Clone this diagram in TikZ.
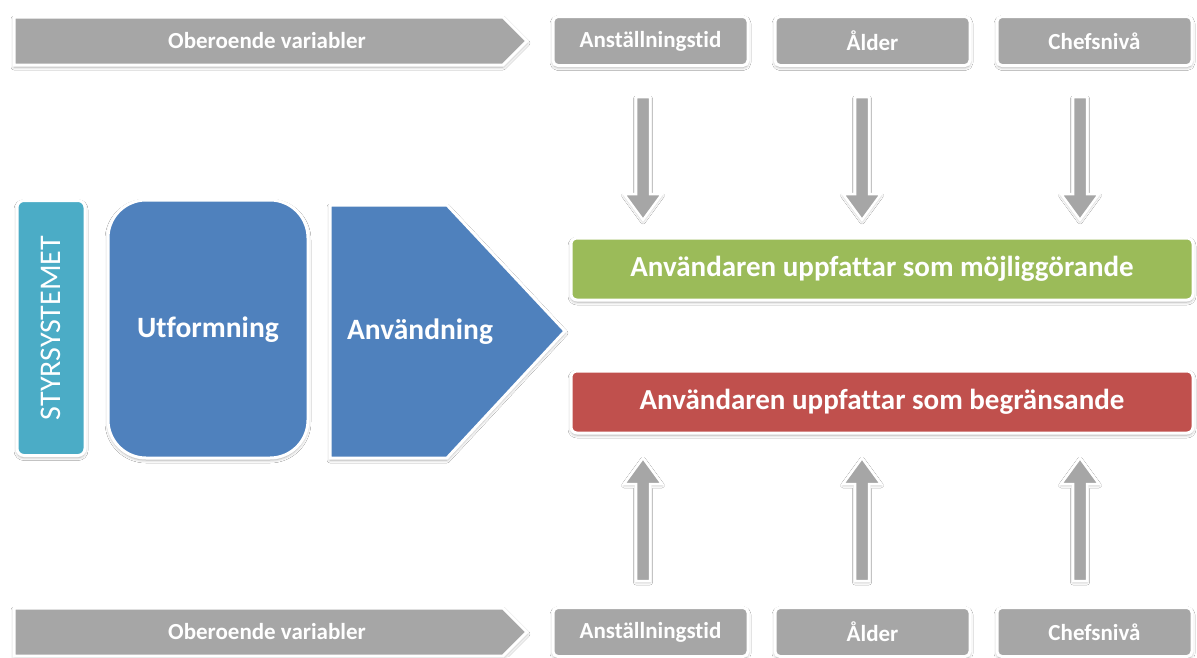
\documentclass[tikz,border=0pt]{standalone}
\usepackage{fontspec}
\setmainfont{Carlito}[Ligatures=NoCommon]
\usetikzlibrary{calc,shadows.blur}
\definecolor{bargray}{HTML}{A6A6A6}
\definecolor{okgreen}{HTML}{9BBB59}
\definecolor{badred}{HTML}{C0504D}
\definecolor{stepblue}{HTML}{4F81BD}
\definecolor{systeal}{HTML}{4BACC6}
\tikzset{
  framed/.style={draw=white, line width=3pt,
    blur shadow={shadow xshift=0pt, shadow yshift=-2pt, shadow blur radius=3pt, shadow opacity=35}},
  bartext/.style={text=white, font=\bfseries\fontsize{23}{26}\selectfont},
  varbox/.style={framed, fill=bargray, rounded corners=5pt, minimum width=195pt, minimum height=49pt,
    text=white, font=\bfseries\fontsize{23}{26}\selectfont},
  outbox/.style={framed, rounded corners=6pt, minimum width=622pt, minimum height=62pt,
    text=white, font=\bfseries\fontsize{29}{32}\selectfont},
  bigtext/.style={text=white, font=\bfseries\fontsize{29.5}{33}\selectfont},
  arrowbody/.style={fill=bargray, draw=white, line width=2.5pt, line join=miter,
    blur shadow={shadow xshift=0pt, shadow yshift=-1.5pt, shadow blur radius=2.5pt, shadow opacity=30}},
  pics/downarrow/.style={code={
    \path[arrowbody] (-7,0) -- (-7,97) -- (-19,97) -- (0,123) -- (19,97) -- (7,97) -- (7,0) -- cycle;}},
  pics/uparrow/.style={code={
    \path[arrowbody] (-7,0) -- (-7,-97) -- (-19,-97) -- (0,-123) -- (19,-97) -- (7,-97) -- (7,0) -- cycle;}}
}
\begin{document}
\begin{tikzpicture}[x=1pt,y=-1pt]
\useasboundingbox[fill=white] (0,0) rectangle (1197,657);

% top row of independent variables
\path[framed, fill=bargray] (14,17) -- (503,17) -- (527,41) -- (503,65) -- (14,65) -- cycle;
\node[bartext] (ovtop) at (267,41) {Oberoende variabler};
\node[varbox] (t1) at (650.5,41) {Anställningstid};
\node[varbox] (t2) at (872.5,41) {Ålder};
\node[varbox] (t3) at (1094.5,41) {Chefsnivå};

% bottom row of independent variables
\path[framed, fill=bargray] (14,608) -- (503,608) -- (527,632) -- (503,656) -- (14,656) -- cycle;
\node[bartext] (ovbot) at (267,632) {Oberoende variabler};
\node[varbox] (b1) at (650.5,632) {Anställningstid};
\node[varbox] (b2) at (872.5,632) {Ålder};
\node[varbox] (b3) at (1094.5,632) {Chefsnivå};

% control system chain
\node[framed, fill=systeal, rounded corners=7pt, minimum width=68pt, minimum height=255pt] (sys) at (51,328) {};
\node[rotate=90, text=white, font=\fontsize{30}{34}\selectfont] (systxt) at (sys.center) {STYRSYSTEMET};
\node[framed, fill=stepblue, rounded corners=38pt, minimum width=200pt, minimum height=258pt] (utf) at (208,329) {};
\node[bigtext] (utftxt) at (208,330) {Utformning};
\path[framed, fill=stepblue] (330,205) -- (447,205) -- (565,331) -- (447,458) -- (330,458) -- cycle;
\node[bigtext] (anv) at (420,332) {Användning};

% perceived outcomes
\node[outbox, fill=okgreen] (ok) at (882,269) {Användaren uppfattar som möjliggörande};
\node[outbox, fill=badred] (bad) at (882,402) {Användaren uppfattar som begränsande};

% influence arrows
\pic at ($(t1.south)+(-7.5,30)$) {downarrow};
\pic at ($(t2.south)+(-10.5,30)$) {downarrow};
\pic at ($(t3.south)+(-14.5,30)$) {downarrow};
\pic at ($(b1.north)+(-7.5,-25)$) {uparrow};
\pic at ($(b2.north)+(-10.5,-25)$) {uparrow};
\pic at ($(b3.north)+(-14.5,-25)$) {uparrow};
\end{tikzpicture}
\end{document}
